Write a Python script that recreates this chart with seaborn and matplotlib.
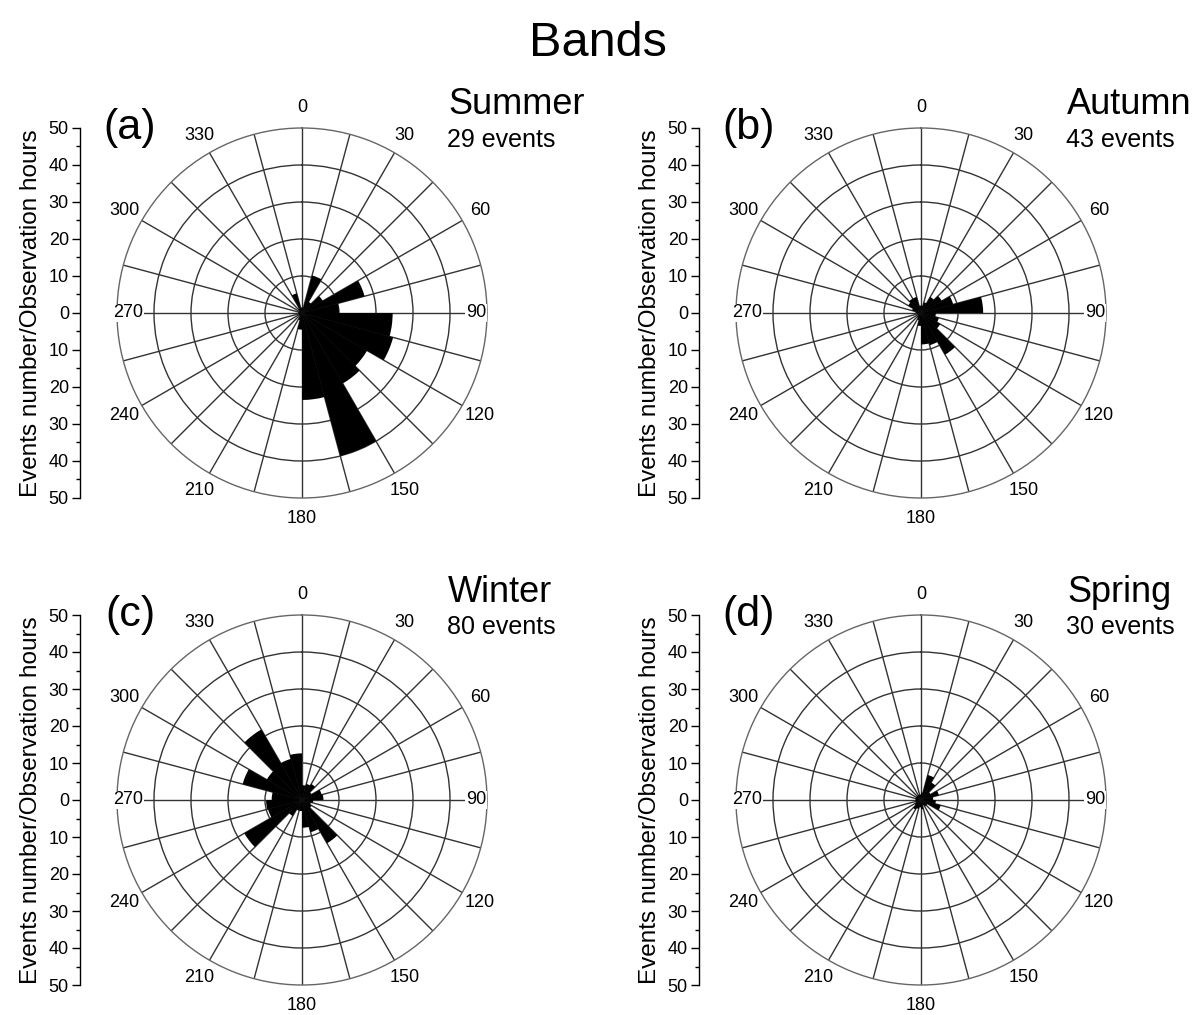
import numpy as np
import matplotlib
matplotlib.use("Agg")
import matplotlib.pyplot as plt
import seaborn as sns

# direction bins (start of each 15 degree sector)
bins = [0, 15, 30, 45, 60, 75, 90, 105, 120, 135, 150, 165,
        180, 195, 210, 225, 240, 255, 270, 285, 300, 315, 330, 345]

# events number / observation hours per sector
summer = [1.5, 10.5, 3.5, 6.5, 17.5, 10, 24.5, 25.5, 20.3, 22, 40, 23.5,
          4.5, 2, 1, 1, 1, 1, 1, 1, 1, 1.5, 5.5, 1.5]
autumn = [2, 3, 5, 6.5, 9, 16.8, 4, 5, 6, 13, 9, 8.5,
          3.5, 2, 1.5, 1, 1, 1, 1.5, 2.5, 4, 4.5, 4.5, 2]
winter = [4, 4.5, 5, 3, 5.5, 5.8, 3, 2.5, 3, 13.5, 9, 7.5,
          3, 3, 5, 18, 9.5, 9.7, 8.2, 16.6, 11, 22, 11.5, 12.6]
spring = [2, 7, 5.5, 3, 5, 3.3, 4, 5.5, 2, 2, 1.5, 2.5,
          2, 2.5, 3, 2, 1.5, 1.5, 1.5, 1.5, 1.5, 1.5, 1.5, 1.5]

panel_tags = ["(a)", "(b)", "(c)", "(d)"]
seasons = ["Summer", "Autumn", "Winter", "Spring"]
event_counts = ["29 events", "43 events", "80 events", "30 events"]
angle_labels = [0, 30, 60, 90, 120, 150, 180, 210, 240, 270, 300, 330]

sns.set_theme(style="white")
plt.rcParams['font.family'] = ['Liberation Sans', 'DejaVu Sans']
plt.rcParams['text.color'] = 'black'
plt.rcParams['axes.labelcolor'] = 'black'
plt.rcParams['ytick.color'] = 'black'
plt.rcParams['xtick.color'] = 'black'

W, H = 1195, 1015
R = 185
centers = [(302, 313), (921, 313), (302, 800), (921, 800)]

fig = plt.figure(figsize=(W / 100, H / 100), dpi=100)
fig.text(0.5, 1 - 43 / H, "Bands", ha="center", va="center", fontsize=35)

for vals, tag, season, ev, (cx, cy) in zip([summer, autumn, winter, spring],
                                           panel_tags, seasons, event_counts, centers):
    ax = fig.add_axes([(cx - R) / W, 1 - (cy + R) / H, 2 * R / W, 2 * R / H],
                      projection="polar")
    ax.set_theta_zero_location("N")
    ax.set_theta_direction(-1)
    ax.bar(np.deg2rad(bins), vals, width=np.deg2rad(15), align="edge",
           color="black", edgecolor="none", zorder=3)
    ax.set_ylim(0, 50)
    ax.set_xticks(np.deg2rad(np.arange(0, 360, 15)))
    ax.set_xticklabels([])
    ax.set_yticks([10, 20, 30, 40])
    ax.set_yticklabels([])
    ax.grid(True, color="#333333", lw=1)
    ax.spines["polar"].set_color("#666666")
    ax.spines["polar"].set_linewidth(1)
    ax.set_facecolor("white")
    for a in angle_labels:
        r = 47 if a in (90, 270) else 55.5
        ax.text(np.deg2rad(a), r, str(a), ha="center", va="center", fontsize=13,
                bbox=dict(facecolor="white", edgecolor="none", pad=0.5) if a in (90, 270) else None,
                zorder=5, clip_on=False)

    # linear radius scale on the left
    lax = fig.add_axes([(cx - 222) / W, 1 - (cy + R) / H, 0.0005, 2 * R / H])
    lax.patch.set_visible(False)
    lax.set_ylim(-50, 50)
    lax.set_yticks(np.arange(-50, 51, 10))
    lax.set_yticklabels([str(abs(v)) for v in range(-50, 51, 10)], fontsize=13)
    lax.set_yticks(np.arange(-45, 50, 10), minor=True)
    lax.set_xticks([])
    lax.tick_params(axis="y", which="major", direction="out", length=6, width=1,
                    left=True, pad=2)
    lax.tick_params(axis="y", which="minor", direction="out", length=3, width=1, left=True)
    sns.despine(ax=lax, top=True, right=True, bottom=True)
    lax.spines["left"].set_color("black")
    lax.spines["left"].set_linewidth(1)
    lax.set_ylabel("Events number/Observation hours", fontsize=17.5, labelpad=5)

    fig.text((cx - 172) / W, 1 - (cy - 185) / H, tag, ha="center", va="center", fontsize=31)
    fig.text((cx + 146) / W, 1 - (cy - 208) / H, season, ha="left", va="center", fontsize=26)
    fig.text((cx + 145) / W, 1 - (cy - 173) / H, ev, ha="left", va="center", fontsize=18)

fig.savefig("out.png", dpi=100)
